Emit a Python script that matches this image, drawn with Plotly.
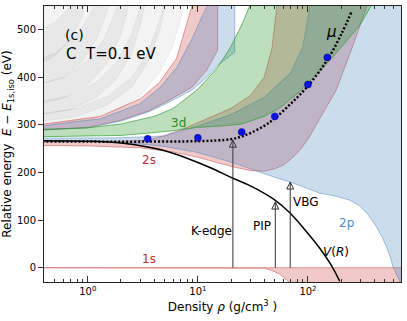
import math
import plotly.graph_objects as go

# density in g/cm3, energy in eV relative to the isolated 1s level

# band edges, read as (density, energy) pairs
S1_LOW = [(0.3, 0), (30, 0), (35, -0.3), (40, -1), (45, -4), (50, -8), (55, -13), (60, -20), (65, -28), (75, -40), (100, -60), (900, -60)]
S1_UP = [(0.3, 0), (900, 0)]

S2_LOW = [(0.3, 257), (1, 256), (3, 252), (6, 243), (10, 232), (20, 213), (30, 204), (40, 203), (50, 208),
          (60, 216), (70, 228), (85, 248), (100, 270), (130, 315), (180, 373), (250, 460), (340, 547), (400, 610)]
S2_UP = [(0.3, 265), (2, 266), (3.5, 268), (5, 278), (8, 295), (12, 312), (20, 335), (30, 362), (40, 400),
         (47, 460), (52, 550), (58, 640), (400, 640)]

P2_LOW = [(0.3, 266), (2, 264), (5, 255), (10, 242), (20, 222), (34, 203), (50, 190), (69, 180), (127, 157),
          (180, 150), (240, 142), (295, 130), (350, 112), (419, 86), (470, 65), (516, 44), (560, 22),
          (593, 2), (684, -29), (750, -50), (900, -60)]
P2_UP = [(0.3, 272), (2, 273), (5, 277), (10, 298), (20, 322), (40, 358), (70, 410), (90, 465), (104, 550),
         (115, 620), (900, 620)]

S3_LOW = [(0.3, 288), (1, 295), (2, 310), (3.6, 330), (5.5, 352), (8.9, 380), (12, 415), (15.1, 457), (15.1, 620)]
S3_UP = [(0.3, 298), (1.3, 318), (3, 355), (4.5, 390), (6.4, 440), (8.8, 549), (10, 620)]

P3_LOW = [(0.3, 288), (1, 294), (2, 308), (3.6, 328), (5.5, 348), (8.9, 374), (12, 400), (15.1, 425),
          (21.6, 453), (21.6, 620)]
P3_UP = [(0.3, 295), (1.3, 313), (3, 345), (4.5, 378), (6.4, 420), (8.8, 480), (11, 530), (12.8, 560), (14, 620)]

D3_LOW = [(0.3, 275), (1, 276), (2, 278), (3.6, 283), (6, 288), (10, 295), (17, 298), (25, 302), (40, 318),
          (55, 335), (84, 370), (130, 415), (168, 443), (295, 509), (377, 551), (420, 620)]
D3_UP = [(0.3, 290), (1, 294), (2, 302), (4, 318), (6, 335), (10, 375), (15, 420), (20, 465), (25, 510),
         (29.5, 550), (35, 620), (420, 620)]

GRAY_BANDS = [
    ([(0.3, 298), (1, 310), (2, 335), (3, 362), (4.5, 410), (6, 470), (7.5, 550), (8.5, 620)],
     [(0.3, 320), (0.8, 335), (1.5, 360), (2.5, 400), (3.5, 450), (4.5, 520), (5, 560), (5.5, 620)]),
    ([(0.3, 305), (0.8, 318), (1.5, 342), (2.5, 380), (3.5, 430), (4.5, 500), (5.2, 560), (6, 640)],
     [(0.3, 345), (0.7, 362), (1.2, 390), (1.8, 430), (2.5, 490), (3, 550), (3.4, 620)]),
    ([(0.3, 318), (0.7, 332), (1.2, 358), (1.8, 395), (2.5, 450), (3, 510), (3.5, 580)],
     [(0.3, 380), (0.6, 400), (1, 435), (1.4, 480), (1.8, 540), (2, 580)]),
    ([(0.3, 340), (0.6, 356), (1, 385), (1.5, 430), (2, 490), (2.4, 560)],
     [(0.3, 430), (0.5, 450), (0.8, 490), (1.1, 540), (1.3, 590)]),
    ([(0.3, 380), (0.6, 400), (0.9, 435), (1.2, 480), (1.5, 540), (1.7, 590)],
     [(0.3, 490), (0.5, 515), (0.7, 550), (0.9, 600)]),
    ([(0.3, 420), (0.5, 445), (0.7, 480), (0.9, 530), (1.0, 600)],
     [(0.3, 700), (1.0, 700)]),
]

# chemical potential (dotted) and its computed points
MU_RHO = [0.3, 1, 3, 10, 20, 25, 30, 40, 50, 70, 100, 150, 200, 250]
MU_E = [265, 265, 265, 266, 270, 276, 283, 298, 314, 345, 382, 437, 490, 539]
DOT_RHO = [3.5, 10, 25, 50, 100, 150]
DOT_E = [271, 273, 285, 318, 385, 442]

# continuum lowering V(R)
V_RHO = [0.3, 1, 2, 5, 8.4, 13, 20.8, 30, 48, 68, 100, 127, 160, 194]
V_E = [267, 266, 262, 246, 228, 210, 188, 172, 145, 116, 72, 42, 8, -28]

# arrows from the 1s level (0 eV): K-edge, PIP, VBG
ARROW_RHO = [20.8, 50.5, 69]
ARROW_TOP = [268, 138, 180]

RED = (200, 60, 60)
BLUE = (70, 130, 190)
GREEN = (40, 150, 40)
GRAY = (120, 120, 120)


def rgba(c, a):
    return "rgba(%d,%d,%d,%s)" % (c[0], c[1], c[2], a)


def band(low, up, color, alpha, line_alpha):
    pts = low + up[::-1]
    return go.Scatter(
        x=[p[0] for p in pts],
        y=[p[1] for p in pts],
        mode="lines",
        fill="toself",
        fillcolor=rgba(color, alpha),
        line=dict(color=rgba(color, line_alpha), width=0.8),
        hoverinfo="skip",
    )


fig = go.Figure()

for low, up in GRAY_BANDS:
    fig.add_trace(band(low, up, GRAY, 0.09, 0.12))

fig.add_trace(band(S1_LOW, S1_UP, RED, 0.28, 0.6))
fig.add_trace(band(S2_LOW, S2_UP, RED, 0.28, 0.6))
fig.add_trace(band(P2_LOW, P2_UP, BLUE, 0.28, 0.6))
fig.add_trace(band(S3_LOW, S3_UP, RED, 0.28, 0.6))
fig.add_trace(band(P3_LOW, P3_UP, BLUE, 0.28, 0.6))
fig.add_trace(band(D3_LOW, D3_UP, GREEN, 0.3, 0.8))

fig.add_trace(go.Scatter(x=V_RHO, y=V_E, mode="lines", line=dict(color="black", width=1.5, shape="spline")))
fig.add_trace(go.Scatter(x=MU_RHO, y=MU_E, mode="lines",
                         line=dict(color="black", width=2.5, dash="2px,2px", shape="spline")))
fig.add_trace(go.Scatter(x=DOT_RHO, y=DOT_E, mode="markers",
                         marker=dict(color="#0a14e0", size=7, line=dict(color="#000080", width=0.5))))

# vertical arrows: a stem plus an open arrow tip
for r, top in zip(ARROW_RHO, ARROW_TOP):
    fig.add_trace(go.Scatter(x=[r, r], y=[0, top], mode="lines",
                             line=dict(color="#333333", width=1), hoverinfo="skip"))
fig.add_trace(go.Scatter(x=ARROW_RHO, y=ARROW_TOP, mode="markers",
                         marker=dict(symbol="arrow-up-open", size=7, color="#333333",
                                     line=dict(color="#333333", width=1)),
                         hoverinfo="skip"))

labels = [
    ("3d", 6.6, 304, "#2a8a2a"),
    ("2s", 3.6, 226, "#b83232"),
    ("1s", 3.6, 18, "#b83232"),
    ("2p", 223, 93, "#4a8cc8"),
    ("K-edge", 13.3, 77, "black"),
    ("PIP", 38.5, 87, "black"),
    ("VBG", 96.7, 138, "black"),
    ("<i>V</i>(<i>R</i>)", 181, 34, "black"),
]
for txt, r, e, col in labels:
    fig.add_annotation(x=math.log10(r), y=e, text=txt, showarrow=False,
                       font=dict(size=12, color=col))
fig.add_annotation(x=math.log10(163), y=495, text="<i>μ</i>", showarrow=False,
                   font=dict(size=15, color="black"))

fig.add_annotation(x=0.053, y=0.93, xref="paper", yref="paper", text="(c)", showarrow=False,
                   xanchor="left", font=dict(size=14, color="black"))
fig.add_annotation(x=0.055, y=0.865, xref="paper", yref="paper", text="C  T=0.1 eV", showarrow=False,
                   xanchor="left", font=dict(size=15, color="black"))

minor_vals = [m * 10 ** k for k in (-1, 0, 1, 2) for m in range(2, 10)]

fig.update_layout(
    width=407,
    height=321,
    showlegend=False,
    paper_bgcolor="white",
    plot_bgcolor="white",
    margin=dict(l=44, r=6, t=6, b=39),
    font=dict(family="DejaVu Sans", size=10, color="black"),
    xaxis=dict(
        type="log",
        range=[math.log10(0.4), math.log10(700)],
        tickvals=[1, 10, 100],
        ticktext=["10<sup>0</sup>", "10<sup>1</sup>", "10<sup>2</sup>"],
        ticks="inside",
        ticklen=6,
        tickcolor="#333333",
        minor=dict(tickvals=minor_vals, ticks="inside", ticklen=3, tickcolor="#333333"),
        showgrid=False,
        zeroline=False,
        showline=True,
        linecolor="#222222",
        linewidth=1,
        mirror="ticks",
        automargin=False,
        title=dict(text="Density <i>ρ</i> (g/cm<sup>3</sup> )", font=dict(size=12), standoff=6),
    ),
    yaxis=dict(
        range=[-30, 550],
        tickvals=[0, 100, 200, 300, 400, 500],
        ticks="outside",
        ticklen=5,
        tickcolor="#333333",
        showgrid=False,
        zeroline=False,
        showline=True,
        linecolor="#222222",
        linewidth=1,
        mirror=True,
        automargin=False,
        title=dict(text="Relative energy  <i>E</i> − <i>E</i><sub>1s,iso</sub> (eV)",
                   font=dict(size=12), standoff=4),
    ),
)

# the page body has a default margin; drop it so the figure sits at the window corner
fig.write_html("out.html", config={"displayModeBar": False},
               post_script="document.body.style.margin='0px';")
